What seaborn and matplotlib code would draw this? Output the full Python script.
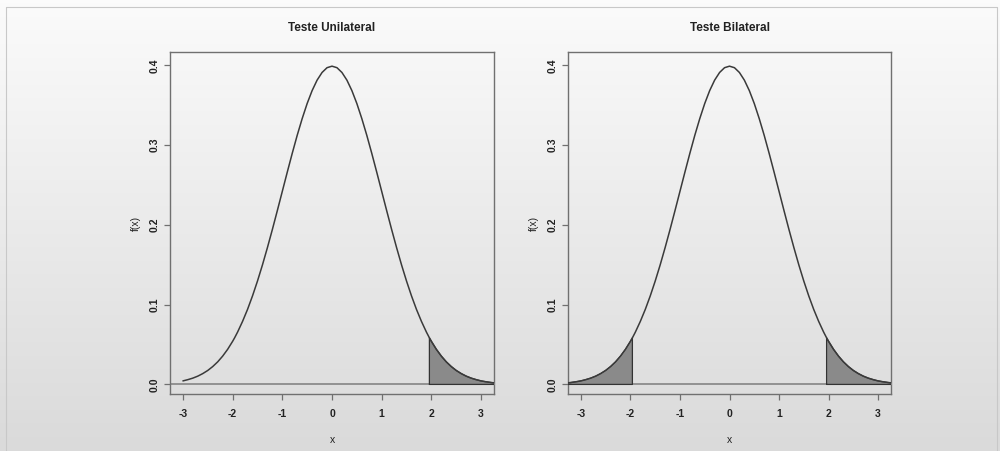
import numpy as np
import pandas as pd
import matplotlib
matplotlib.use("Agg")
import matplotlib.pyplot as plt
import seaborn as sns

# ---- data (standard normal density) ----
x_vals = [-3.3, -3.2, -3.1, -3.0, -2.9, -2.8, -2.7, -2.6, -2.5, -2.4, -2.3, -2.2, -2.1,
          -2.0, -1.96, -1.9, -1.8, -1.7, -1.6, -1.5, -1.4, -1.3, -1.2, -1.1, -1.0,
          -0.9, -0.8, -0.7, -0.6, -0.5, -0.4, -0.3, -0.2, -0.1, 0.0,
          0.1, 0.2, 0.3, 0.4, 0.5, 0.6, 0.7, 0.8, 0.9, 1.0,
          1.1, 1.2, 1.3, 1.4, 1.5, 1.6, 1.7, 1.8, 1.9, 1.96, 2.0,
          2.1, 2.2, 2.3, 2.4, 2.5, 2.6, 2.7, 2.8, 2.9, 3.0, 3.1, 3.2, 3.3]
fx_vals = [0.0017, 0.0024, 0.0033, 0.0044, 0.0060, 0.0079, 0.0104, 0.0136, 0.0175, 0.0224,
           0.0283, 0.0355, 0.0440, 0.0540, 0.0584, 0.0656, 0.0790, 0.0940, 0.1109, 0.1295,
           0.1497, 0.1714, 0.1942, 0.2179, 0.2420, 0.2661, 0.2897, 0.3123, 0.3332, 0.3521,
           0.3683, 0.3814, 0.3910, 0.3970, 0.3989,
           0.3970, 0.3910, 0.3814, 0.3683, 0.3521, 0.3332, 0.3123, 0.2897, 0.2661, 0.2420,
           0.2179, 0.1942, 0.1714, 0.1497, 0.1295, 0.1109, 0.0940, 0.0790, 0.0656, 0.0584,
           0.0540, 0.0440, 0.0355, 0.0283, 0.0224, 0.0175, 0.0136, 0.0104, 0.0079, 0.0060,
           0.0044, 0.0033, 0.0024, 0.0017]

titles = ["Teste Unilateral", "Teste Bilateral"]
curve_start = [-3.0, -3.3]          # where each curve begins
critical = 1.96                      # critical value of the shaded tails
x_ticks = [-3, -2, -1, 0, 1, 2, 3]
x_tick_labels = ["-3", "-2", "-1", "0", "1", "2", "3"]
y_ticks = [0.0, 0.1, 0.2, 0.3, 0.4]
y_tick_labels = ["0.0", "0.1", "0.2", "0.3", "0.4"]

df = pd.DataFrame({"x": x_vals, "fx": fx_vals})

sns.set_theme(style="ticks")
plt.rcParams["font.family"] = ["Liberation Sans", "DejaVu Sans"]

fig = plt.figure(figsize=(10, 4.51), dpi=100)

# background gradient
bg = fig.add_axes([0, 0, 1, 1], zorder=-10)
grad = np.linspace(0.985, 0.855, 256).reshape(-1, 1)
bg.imshow(np.dstack([grad, grad, grad]), aspect="auto", extent=[0, 1, 0, 1],
          transform=bg.transAxes)
bg.plot([0.006, 0.006, 0.997, 0.997], [0.0, 0.985, 0.985, 0.0], color="#c8c8c8",
        lw=0.8, transform=bg.transAxes)
bg.set_xlim(0, 1)
bg.set_ylim(0, 1)
bg.axis("off")

positions = [[0.170, 0.1264, 0.324, 0.758], [0.568, 0.1264, 0.323, 0.758]]
line_col = "#3a3a3a"
spine_col = "#707070"
text_col = "#222222"

for i, pos in enumerate(positions):
    ax = fig.add_axes(pos)
    ax.set_facecolor("none")
    sub = df[df["x"] >= curve_start[i] - 1e-9]
    sns.lineplot(data=sub, x="x", y="fx", ax=ax, color=line_col, lw=1.1,
                 estimator=None, sort=False, zorder=4)
    ax.axhline(0, color="#8c8c8c", lw=1.3, zorder=2)

    right = df[df["x"] >= critical - 1e-9]
    tails = [right]
    if i == 1:
        tails.append(df[df["x"] <= -critical + 1e-9])
    for t in tails:
        ax.fill_between(t["x"], 0, t["fx"], color="#8a8a8a", zorder=3, lw=0)
        edge_x = [t["x"].iloc[0]] + list(t["x"]) + [t["x"].iloc[-1], t["x"].iloc[0]]
        edge_y = [0] + list(t["fx"]) + [0, 0]
        ax.plot(edge_x, edge_y, color="#333333", lw=0.9, zorder=3.5)

    ax.set_xlim(-3.26, 3.26)
    ax.set_ylim(-0.012, 0.4165)
    ax.set_xticks(x_ticks)
    ax.set_xticklabels(x_tick_labels)
    ax.set_yticks(y_ticks)
    ax.set_yticklabels(y_tick_labels, rotation=90, va="center")
    ax.tick_params(axis="both", direction="out", length=4.5, width=0.9,
                   color=spine_col, labelsize=7.5, labelcolor=text_col)
    ax.tick_params(axis="x", pad=6)
    ax.tick_params(axis="y", pad=3)
    for lab in ax.get_xticklabels() + ax.get_yticklabels():
        lab.set_fontweight("bold")
    for s in ax.spines.values():
        s.set_visible(True)
        s.set_color(spine_col)
        s.set_linewidth(1.0)
    ax.set_title(titles[i], fontsize=8.5, fontweight="bold", color="#222222", pad=15)
    ax.set_xlabel("x", fontsize=7.5, color=text_col, labelpad=12)
    ax.set_ylabel("f(x)", fontsize=7.5, color=text_col, labelpad=6)

fig.savefig("out.png", dpi=100)
